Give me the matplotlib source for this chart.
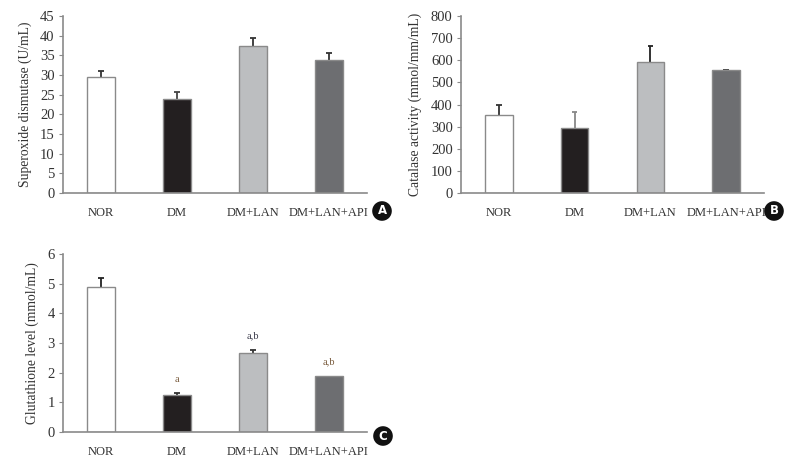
import numpy as np
import matplotlib
matplotlib.use('Agg')
from matplotlib import pyplot as plt

groups = ['NOR', 'DM', 'DM+LAN', 'DM+LAN+API']
bar_colors = ['#ffffff', '#231f20', '#bcbec0', '#6d6e71']

sod = [29.4, 23.9, 37.3, 33.8]
sod_err = [1.5, 1.7, 2.0, 1.7]

cat = [351, 296, 592, 554]
cat_err = [45, 72, 73, 4]

gsh = [4.88, 1.25, 2.66, 1.90]
gsh_err = [0.32, 0.05, 0.09, 0.0]
gsh_marks = ['', 'a', 'a,b', 'a,b']
mark_colors = ['#000000', '#7a5c3e', '#3d3d4d', '#7a5c3e']

plt.rcParams['font.family'] = ['Liberation Serif', 'DejaVu Serif']

W, H = 798, 468
fig = plt.figure(figsize=(W / 100, H / 100), dpi=100)


def px_axes(left, right, top, bottom):
    return fig.add_axes([left / W, 1 - bottom / H, (right - left) / W, (bottom - top) / H])


def draw_panel(ax, vals, errs, ymax, ystep, ylabel, err_colors):
    x = np.arange(len(groups))
    ax.bar(x, vals, width=0.36, color=bar_colors, edgecolor='#8a8a8a', linewidth=1.0, zorder=2)
    # upper error bars only
    for xi, v, e, c in zip(x, vals, errs, err_colors):
        if e > 0:
            ax.vlines(xi, v, v + e, color=c, linewidth=1.3, zorder=1)
            ax.hlines(v + e, xi - 0.035, xi + 0.035, color=c, linewidth=1.3, zorder=1)
    ax.set_xlim(-0.5, 3.5)
    ax.set_ylim(0, ymax)
    ax.set_yticks(np.arange(0, ymax + ystep / 2, ystep))
    ax.set_xticks(x)
    ax.set_xticklabels(groups)
    for s in ['top', 'right']:
        ax.spines[s].set_visible(False)
    for s in ['left', 'bottom']:
        ax.spines[s].set_color('#8a8a8a')
        ax.spines[s].set_linewidth(1.2)
    ax.tick_params(axis='y', direction='out', length=3, color='#8a8a8a', labelsize=10.5,
                   labelcolor='#333333', pad=3)
    ax.tick_params(axis='x', length=0, labelsize=9, labelcolor='#333333', pad=10)
    ax.set_ylabel(ylabel, fontsize=9.8, color='#333333', labelpad=6)


axA = px_axes(63, 367, 16, 193)
draw_panel(axA, sod, sod_err, 45, 5, 'Superoxide dismutase (U/mL)',
           ['#333333', '#444444', '#333333', '#333333'])

axB = px_axes(461, 764, 16, 193)
draw_panel(axB, cat, cat_err, 800, 100, 'Catalase activity (mmol/mm/mL)',
           ['#333333', '#888888', '#222222', '#333333'])

axC = px_axes(63, 367, 254, 432)
draw_panel(axC, gsh, gsh_err, 6, 1, 'Glutathione level (mmol/mL)',
           ['#222222', '#333333', '#333333', '#333333'])
for xi, v, e, m, c in zip(range(4), gsh, gsh_err, gsh_marks, mark_colors):
    if m:
        axC.text(xi, v + e + 0.33, m, ha='center', va='bottom', fontsize=7.5, color=c)

for lab, cx, cy in [('A', 382, 211), ('B', 774, 211), ('C', 383, 436)]:
    fig.text(cx / W, 1 - cy / H, lab, ha='center', va='center', fontsize=8.5,
             fontweight='bold', color='white', family='DejaVu Sans',
             bbox=dict(boxstyle='circle,pad=0.28', fc='#111111', ec='none'))

fig.savefig('out.png', dpi=100)
